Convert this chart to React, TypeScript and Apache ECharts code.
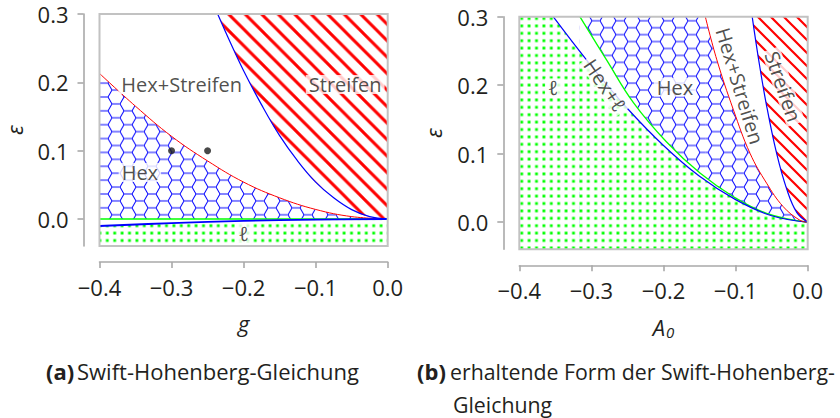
import React, { useEffect, useRef } from 'react';
import * as echarts from 'echarts';

type P = [number, number];

// ---------- axes ----------
const X_MIN = -0.4;
const X_MAX = 0;
const X_INTERVAL = 0.1;
const Y_MIN = -0.0395;
const Y_MAX = 0.3;
const Y_TICKS = [0, 0.1, 0.2, 0.3];

// ---------- (a) Swift-Hohenberg: g vs epsilon ----------
const SH_HEX_UPPER: P[] = [
  [-0.4, 0.213], [-0.35, 0.165], [-0.3, 0.121], [-0.25, 0.085], [-0.2, 0.054],
  [-0.15, 0.031], [-0.1, 0.014], [-0.05, 0.0035], [0, 0],
];
const SH_STRIPES_LOWER: P[] = [
  [-0.236, 0.3], [-0.22, 0.262], [-0.2, 0.217], [-0.175, 0.167], [-0.15, 0.122],
  [-0.125, 0.085], [-0.1, 0.054], [-0.075, 0.031], [-0.05, 0.0137], [-0.025, 0.0034], [0, 0],
];
const SH_L_UPPER: P[] = [[-0.4, -0.0102], [-0.3, -0.006], [-0.2, -0.0028], [-0.1, -0.0008], [0, 0]];
const SH_ZERO: P[] = [[-0.4, 0], [0, 0]];
const SH_POINTS: P[] = [[-0.3, 0.1], [-0.25, 0.1]];
const SH_LABELS = [
  { name: 'Hex+Streifen', value: [-0.286, 0.197] as P, rotate: 0 },
  { name: 'Streifen', value: [-0.059, 0.197] as P, rotate: 0 },
  { name: 'Hex', value: [-0.344, 0.068] as P, rotate: 0 },
  { name: 'ℓ', value: [-0.2, -0.0205] as P, rotate: 0 },
];

// ---------- (b) conserved Swift-Hohenberg: A0 vs epsilon ----------
const CSH_L_BOUNDARY: P[] = [
  [-0.353, 0.3], [-0.3, 0.228], [-0.25, 0.166], [-0.2, 0.112], [-0.15, 0.067],
  [-0.1, 0.033], [-0.05, 0.0095], [0, 0],
];
const CSH_HEX_LOWER: P[] = [
  [-0.316, 0.3], [-0.279, 0.237], [-0.242, 0.175], [-0.196, 0.1175], [-0.149, 0.0714],
  [-0.103, 0.0373], [-0.057, 0.0131], [0, 0],
];
const CSH_HEX_UPPER: P[] = [
  [-0.142, 0.3], [-0.126, 0.237], [-0.103, 0.164], [-0.08, 0.1006], [-0.057, 0.057],
  [-0.034, 0.0228], [-0.011, 0.003], [0, 0],
];
const CSH_STRIPES_LOWER: P[] = [
  [-0.077, 0.3], [-0.068, 0.237], [-0.057, 0.17], [-0.043, 0.1], [-0.029, 0.048],
  [-0.015, 0.014], [0, 0],
];
const CSH_LABELS = [
  { name: 'ℓ', value: [-0.353, 0.196] as P, rotate: 0 },
  { name: 'Hex+ℓ', value: [-0.281, 0.2] as P, rotate: -56 },
  { name: 'Hex', value: [-0.184, 0.197] as P, rotate: 0 },
  { name: 'Hex+Streifen', value: [-0.094, 0.199] as P, rotate: -73 },
  { name: 'Streifen', value: [-0.034, 0.198] as P, rotate: -71 },
];

// ---------- texts ----------
const X_NAME_A = 'g';
const X_NAME_B = '{a|A}{s|0}';
const Y_NAME = 'ε';
const CAPTION_A_TAG = '(a)';
const CAPTION_A = 'Swift-Hohenberg-Gleichung';
const CAPTION_B_TAG = '(b)';
const CAPTION_B1 = 'erhaltende Form der Swift-Hohenberg-';
const CAPTION_B2 = 'Gleichung';

const FONT = "'Open Sans', 'DejaVu Sans', sans-serif";
const TEXT = '#231f20';
const AXIS_GRAY = '#a9a9a9';

const svgUrl = (svg: string) => 'data:image/svg+xml;charset=utf-8,' + encodeURIComponent(svg);

function hexPattern(s: number) {
  const w = 3 * s;
  const h = Math.sqrt(3) * s;
  const f = (v: number) => v.toFixed(3);
  const slanted = `M0,${f(h / 2)} L${f(s / 2)},0 M${f(1.5 * s)},0 L${f(2 * s)},${f(h / 2)} L${f(1.5 * s)},${f(h)} M${f(s / 2)},${f(h)} L0,${f(h / 2)}`;
  const horiz = `M${f(s / 2)},0 L${f(1.5 * s)},0 M${f(s / 2)},${f(h)} L${f(1.5 * s)},${f(h)} M${f(2 * s)},${f(h / 2)} L${f(w)},${f(h / 2)}`;
  const svg = `<svg xmlns="http://www.w3.org/2000/svg" width="${f(w)}" height="${f(h)}" viewBox="0 0 ${f(w)} ${f(h)}"><path d="${slanted}" stroke="#0000ff" stroke-width="1" fill="none"/><path d="${horiz}" stroke="#5a5aff" stroke-width="1.6" fill="none"/></svg>`;
  return { image: svgUrl(svg), repeat: 'repeat', imageWidth: w, imageHeight: h };
}

function hatchPattern(t: number, lw: number) {
  const svg = `<svg xmlns="http://www.w3.org/2000/svg" width="${t}" height="${t}" viewBox="0 0 ${t} ${t}"><path d="M-3,-3 L${t + 3},${t + 3} M${t - 4},-4 L${t + 4},4 M-4,${t - 4} L4,${t + 4}" stroke="#ff0000" stroke-width="${lw}" fill="none"/></svg>`;
  return { image: svgUrl(svg), repeat: 'repeat', imageWidth: t, imageHeight: t };
}

function dotPattern(d: number, size: number) {
  const o = (d - size) / 2;
  const svg = `<svg xmlns="http://www.w3.org/2000/svg" width="${d}" height="${d}" viewBox="0 0 ${d} ${d}"><rect x="${o}" y="${o}" width="${size}" height="${size}" fill="#00ff00"/></svg>`;
  return { image: svgUrl(svg), repeat: 'repeat', imageWidth: d, imageHeight: d };
}

const fmtTick = (v: number) => {
  const s = Math.abs(v).toFixed(1);
  return v < -1e-9 ? '\u2212' + s : s;
};

function makeAxes(i: number, xName: string, rich?: any) {
  const line = { show: true, onZero: false, lineStyle: { color: AXIS_GRAY, width: 1.6 } };
  const tick = { show: true, inside: false, length: 6, lineStyle: { color: AXIS_GRAY, width: 1.6 } };
  const x = {
    type: 'value', gridIndex: i, min: X_MIN, max: X_MAX, interval: X_INTERVAL, offset: 16,
    axisLine: line, axisTick: tick, splitLine: { show: false },
    axisLabel: { fontFamily: FONT, fontSize: 22, color: TEXT, margin: 14, formatter: fmtTick },
    name: xName, nameLocation: 'middle', nameGap: 50,
    nameTextStyle: { fontFamily: FONT, fontSize: 22, color: TEXT, fontStyle: 'italic', rich },
  };
  const y = {
    type: 'value', gridIndex: i, min: Y_MIN, max: Y_MAX, offset: 16,
    axisLine: line,
    axisTick: { ...tick, customValues: Y_TICKS },
    splitLine: { show: false },
    axisLabel: { fontFamily: FONT, fontSize: 22, color: TEXT, margin: 15, formatter: fmtTick, customValues: Y_TICKS },
    name: Y_NAME, nameLocation: 'middle', nameGap: 63,
    nameTextStyle: { fontFamily: FONT, fontSize: 22, lineHeight: 14, color: TEXT, fontStyle: 'italic' },
  };
  return { x, y };
}

function areaSeries(i: number, data: P[], fill: any, origin: string, smooth = true) {
  return {
    type: 'line', xAxisIndex: i, yAxisIndex: i, data, smooth: smooth ? 0.4 : false,
    showSymbol: false, symbol: 'none', silent: true, clip: true,
    lineStyle: { width: 0, opacity: 0 },
    areaStyle: { color: fill, opacity: 1, origin },
  };
}

function strokeSeries(i: number, data: P[], color: string, width: number) {
  return {
    type: 'line', xAxisIndex: i, yAxisIndex: i, data, smooth: 0.4,
    showSymbol: false, symbol: 'none', silent: true, clip: true,
    lineStyle: { color, width },
  };
}

function labelSeries(i: number, items: { name: string; value: P; rotate: number }[]) {
  return {
    type: 'scatter', xAxisIndex: i, yAxisIndex: i, symbolSize: 0, silent: true,
    data: items.map((d) => ({ name: d.name, value: d.value, label: { rotate: d.rotate } })),
    label: {
      show: true, position: 'inside', formatter: '{b}', fontFamily: FONT, fontSize: 20,
      color: TEXT, backgroundColor: '#ffffff', padding: [0, 3], lineHeight: 19,
    },
    z: 20,
  };
}

export default function App() {
  const ref = useRef<HTMLDivElement>(null);
  useEffect(() => {
    if (!ref.current) return;
    const chart = echarts.init(ref.current, undefined, { renderer: 'svg' });
    const hexA = hexPattern(8);
    const hatchA = hatchPattern(16.5, 3);
    const hatchB = hatchPattern(13, 2.2);
    const dots = dotPattern(7.4, 2.8);
    const a = makeAxes(0, X_NAME_A);
    const b = makeAxes(1, X_NAME_B, {
      a: { fontFamily: FONT, fontSize: 22, fontStyle: 'italic', color: TEXT },
      s: { fontFamily: FONT, fontSize: 15, color: TEXT, padding: [9, 0, 0, 1] },
    });
    const topLeft: P = [X_MIN, Y_MAX];
    const capFont = 21.3;

    const option: any = {
      animation: false,
      backgroundColor: '#ffffff',
      grid: [
        { left: 99.5, top: 14, width: 288.2, height: 232, show: true, borderColor: '#c2c2c2', borderWidth: 2, backgroundColor: 'transparent', z: 10, containLabel: false, outerBoundsMode: 'none' },
        { left: 519.3, top: 16.7, width: 288.4, height: 232.6, show: true, borderColor: '#c2c2c2', borderWidth: 2, backgroundColor: 'transparent', z: 10, containLabel: false, outerBoundsMode: 'none' },
      ],
      xAxis: [a.x, b.x],
      yAxis: [a.y, b.y],
      series: [
        // (a)
        areaSeries(0, SH_HEX_UPPER, hexA, 'auto'),
        areaSeries(0, SH_STRIPES_LOWER, hatchA, 'end'),
        areaSeries(0, SH_L_UPPER, dots, 'start'),
        strokeSeries(0, SH_ZERO, '#00ff00', 1.6),
        strokeSeries(0, SH_HEX_UPPER, '#ff0000', 1),
        strokeSeries(0, SH_STRIPES_LOWER, '#0000ff', 1.2),
        strokeSeries(0, SH_L_UPPER, '#0000ff', 1.8),
        {
          type: 'scatter', xAxisIndex: 0, yAxisIndex: 0, data: SH_POINTS, symbolSize: 7,
          itemStyle: { color: '#1a1a1a' }, silent: true, z: 15,
        },
        labelSeries(0, SH_LABELS),
        // (b)
        areaSeries(1, CSH_HEX_UPPER, hexA, 'start'),
        areaSeries(1, [topLeft, CSH_HEX_UPPER[0]], hexA, 'start', false),
        areaSeries(1, CSH_HEX_LOWER, '#ffffff', 'start'),
        areaSeries(1, [topLeft, CSH_HEX_LOWER[0]], '#ffffff', 'start', false),
        areaSeries(1, CSH_L_BOUNDARY, dots, 'start'),
        areaSeries(1, [topLeft, CSH_L_BOUNDARY[0]], dots, 'start', false),
        areaSeries(1, CSH_STRIPES_LOWER, hatchB, 'end'),
        strokeSeries(1, CSH_HEX_LOWER, '#00ff00', 1.3),
        strokeSeries(1, CSH_L_BOUNDARY, '#0000ff', 1.2),
        strokeSeries(1, CSH_HEX_UPPER, '#ff0000', 1),
        strokeSeries(1, CSH_STRIPES_LOWER, '#0000ff', 1.2),
        labelSeries(1, CSH_LABELS),
      ],
      graphic: [
        { type: 'text', x: 46, y: 371, style: { text: CAPTION_A_TAG, fontFamily: FONT, fontSize: 22, fontWeight: 'bold', fill: TEXT, verticalAlign: 'middle' } },
        { type: 'text', x: 77, y: 371, style: { text: CAPTION_A, fontFamily: FONT, fontSize: 22, fill: TEXT, verticalAlign: 'middle' } },
        { type: 'text', x: 417, y: 371, style: { text: CAPTION_B_TAG, fontFamily: FONT, fontSize: 22, fontWeight: 'bold', fill: TEXT, verticalAlign: 'middle' } },
        { type: 'text', x: 450, y: 371, style: { text: CAPTION_B1, fontFamily: FONT, fontSize: capFont, fill: TEXT, verticalAlign: 'middle' } },
        { type: 'text', x: 453, y: 404.5, style: { text: CAPTION_B2, fontFamily: FONT, fontSize: capFont, fill: TEXT, verticalAlign: 'middle' } },
      ],
    };
    chart.setOption(option);
    return () => chart.dispose();
  }, []);
  return (
    <div
      ref={ref}
      style={{ position: 'fixed', left: 0, top: 0, width: 840, height: 418, background: '#fff' }}
    />
  );
}
